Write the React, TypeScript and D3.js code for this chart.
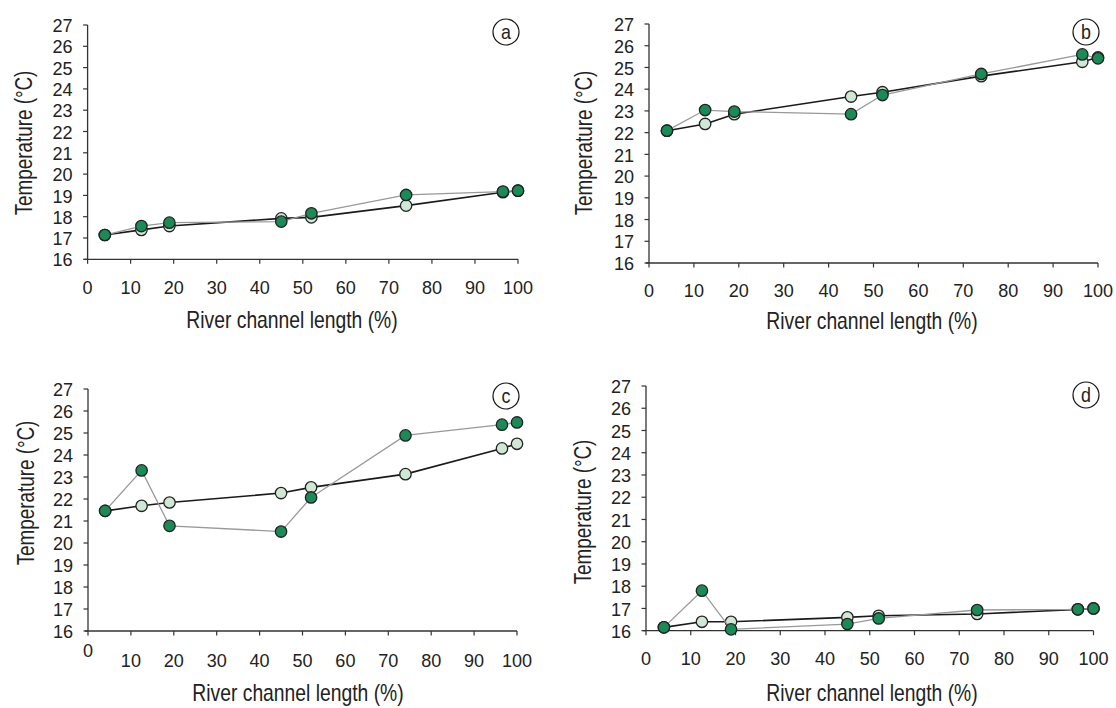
import React from "react";
import * as d3 from "d3";

// ---- data ----
const riverLength = [4, 12.5, 19, 45, 52, 74, 96.5, 100];
const xTickValues = [0, 10, 20, 30, 40, 50, 60, 70, 80, 90, 100];
const yTickValues = [16, 17, 18, 19, 20, 21, 22, 23, 24, 25, 26, 27];

const panelALight = [17.14, 17.38, 17.56, 17.92, 17.97, 18.52, 19.15, 19.22];
const panelAGreen = [17.14, 17.56, 17.72, 17.77, 18.16, 19.02, 19.18, 19.22];
const panelBLight = [22.09, 22.4, 22.85, 23.66, 23.86, 24.6, 25.26, 25.46];
const panelBGreen = [22.09, 23.04, 22.97, 22.85, 23.73, 24.7, 25.6, 25.42];
const panelCLight = [21.46, 21.69, 21.84, 22.27, 22.53, 23.13, 24.3, 24.51];
const panelCGreen = [21.46, 23.3, 20.78, 20.52, 22.07, 24.89, 25.38, 25.48];
const panelDLight = [16.15, 16.4, 16.4, 16.6, 16.67, 16.75, 16.96, 17.0];
const panelDGreen = [16.15, 17.8, 16.06, 16.3, 16.55, 16.93, 16.96, 17.0];

const panelLetters = ["a", "b", "c", "d"];
const xTitle = "River channel length (%)";
const yTitle = "Temperature (°C)";

// ---- layout / style ----
const FONT = "'Liberation Sans', Arial, sans-serif";
const LIGHT_FILL = "#cfe8d6";
const GREEN_FILL = "#1b8a57";
const AXIS = "#333";
const TEXT = "#222";

type Layout = {
  x0: number; x1: number; yTop: number; yBot: number;
  tickY: number; zeroY?: number; titleX: number; titleY: number;
  ylabX: number; ylabY: number; bx: number; by: number;
};

const layouts: Layout[] = [
  { x0: 87.6, x1: 518, yTop: 25, yBot: 259.3, tickY: 287, titleX: 292, titleY: 320, ylabX: 24, ylabY: 143, bx: 506, by: 32 },
  { x0: 649, x1: 1098, yTop: 24, yBot: 263, tickY: 290, titleX: 872, titleY: 321, ylabX: 584, ylabY: 143, bx: 1086, by: 32 },
  { x0: 88, x1: 517, yTop: 389, yBot: 631, tickY: 660, zeroY: 650, titleX: 298, titleY: 693, ylabX: 26, ylabY: 493, bx: 506, by: 396 },
  { x0: 646, x1: 1093.5, yTop: 386, yBot: 630.7, tickY: 658, titleX: 872, titleY: 693, ylabX: 583, ylabY: 512, bx: 1086, by: 395 },
];

const panelData = [
  { light: panelALight, green: panelAGreen },
  { light: panelBLight, green: panelBGreen },
  { light: panelCLight, green: panelCGreen },
  { light: panelDLight, green: panelDGreen },
];

function NText({ x, y, size, sx, anchor = "middle", rotate = 0, children }: any) {
  return (
    <text
      transform={`translate(${x},${y}) rotate(${rotate}) scale(${sx},1)`}
      textAnchor={anchor}
      dominantBaseline="central"
      fontSize={size}
      fill={TEXT}
    >
      {children}
    </text>
  );
}

function Panel({ L, light, green, letter }: { L: Layout; light: number[]; green: number[]; letter: string }) {
  const x = d3.scaleLinear().domain([0, 100]).range([L.x0, L.x1]);
  const y = d3.scaleLinear().domain([16, 27]).range([L.yBot, L.yTop]);
  const line = d3
    .line<number>()
    .x((_, i) => x(riverLength[i]))
    .y((d) => y(d));
  return (
    <g>
      {/* axes */}
      <line x1={L.x0 - 3} x2={L.x1} y1={L.yBot} y2={L.yBot} stroke={AXIS} strokeWidth={1.3} />
      <line x1={L.x0} x2={L.x0} y1={L.yTop} y2={L.yBot} stroke={AXIS} strokeWidth={1.3} />
      {yTickValues.map((t) => (
        <g key={"y" + t}>
          <line x1={L.x0 - 4.5} x2={L.x0} y1={y(t)} y2={y(t)} stroke={AXIS} strokeWidth={1.2} />
          <NText x={L.x0 - 15} y={y(t) + 0.5} size={19} sx={0.95} anchor="end">
            {t}
          </NText>
        </g>
      ))}
      {xTickValues.map((t) => (
        <g key={"x" + t}>
          <line x1={x(t)} x2={x(t)} y1={L.yBot} y2={L.yBot + 4.5} stroke={AXIS} strokeWidth={1.2} />
          <NText x={x(t)} y={t === 0 && L.zeroY ? L.zeroY : L.tickY} size={19} sx={0.95}>
            {t}
          </NText>
        </g>
      ))}
      <NText x={L.titleX} y={L.titleY} size={23} sx={0.84}>
        {xTitle}
      </NText>
      <NText x={L.ylabX} y={L.ylabY} size={23} sx={0.82} rotate={-90}>
        {yTitle}
      </NText>
      {/* panel badge */}
      <circle cx={L.bx} cy={L.by} r={13} fill="none" stroke="#111" strokeWidth={1.2} />
      <NText x={L.bx} y={L.by - 0.5} size={21} sx={0.85}>
        {letter}
      </NText>
      {/* light series: black line */}
      <path d={line(light) || ""} fill="none" stroke="#1a1a1a" strokeWidth={1.6} />
      {light.map((v, i) => (
        <circle key={"l" + i} cx={x(riverLength[i])} cy={y(v)} r={5.7} fill={LIGHT_FILL} stroke="#222" strokeWidth={1.3} />
      ))}
      {/* green series: grey line */}
      <path d={line(green) || ""} fill="none" stroke="#999" strokeWidth={1.3} />
      {green.map((v, i) => (
        <circle key={"g" + i} cx={x(riverLength[i])} cy={y(v)} r={5.7} fill={GREEN_FILL} stroke="#222" strokeWidth={1.3} />
      ))}
    </g>
  );
}

export default function App() {
  return (
    <div style={{ position: "absolute", left: 0, top: 0, width: 1116, height: 708, background: "#fff" }}>
      <svg width={1116} height={708} style={{ display: "block", fontFamily: FONT }}>
        <rect width={1116} height={708} fill="#fff" />
        {layouts.map((L, i) => (
          <Panel key={i} L={L} light={panelData[i].light} green={panelData[i].green} letter={panelLetters[i]} />
        ))}
      </svg>
    </div>
  );
}
